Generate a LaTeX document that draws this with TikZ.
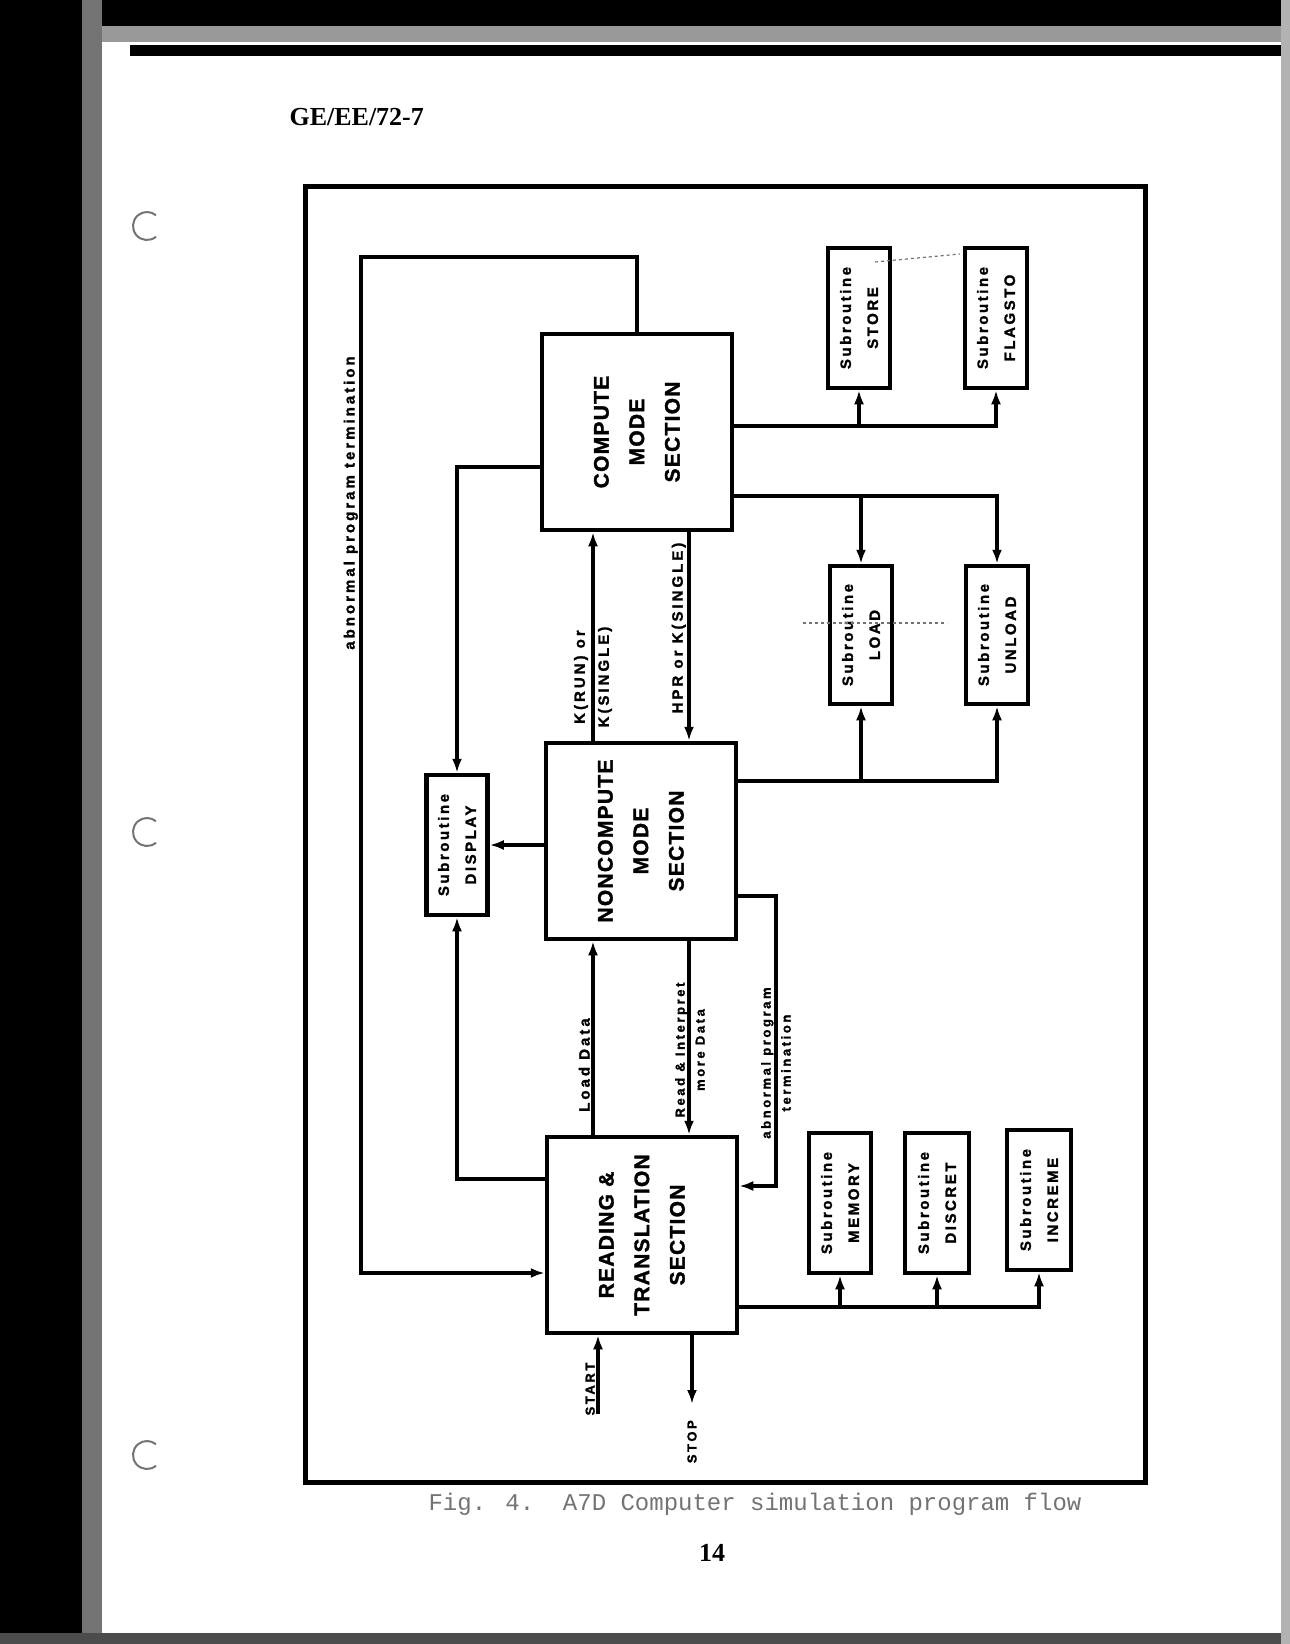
\documentclass[tikz,border=0pt]{standalone}
\usepackage{graphicx}
\usepackage{fontspec}
\setmainfont{Liberation Serif}
\newfontfamily\boxfont{Liberation Sans}[LetterSpace=6, BoldFeatures={FakeBold=1.5}]
\newfontfamily\subfont{Liberation Sans}[LetterSpace=17, BoldFeatures={FakeBold=1.5}]
\newfontfamily\lblfont{Liberation Sans}[LetterSpace=20, BoldFeatures={FakeBold=1.5}]
\newfontfamily\typefont{Liberation Mono}
\usetikzlibrary{calc, positioning, arrows.meta}

\newcommand{\vtext}[1]{\rotatebox{90}{\begin{tabular}{@{}c@{}}#1\end{tabular}}}

\tikzset{
	section/.style={draw, line width=4.5pt, minimum width=190pt, minimum height=196pt, inner sep=0pt,
		font=\boxfont\bfseries\fontsize{21}{35.5}\selectfont},
	subbox/.style={draw, line width=4.5pt, minimum width=62pt, minimum height=140pt, inner sep=0pt,
		font=\subfont\bfseries\fontsize{15}{27}\selectfont},
	wire/.style={line width=3.8pt, line cap=rect},
	flow/.style={wire, -{Latex[length=14pt,width=10pt]}},
	flowlabel/.style={rotate=90, inner sep=2pt, align=center,
		font=\lblfont\bfseries\fontsize{15}{24}\selectfont},
	smalllabel/.style={flowlabel, font=\lblfont\bfseries\fontsize{13}{20}\selectfont},
	scan/.style={black!55, line width=1.2pt, dashed}
}

\begin{document}
\begin{tikzpicture}[x=1pt, y=-1pt]
	\useasboundingbox (0,0) rectangle (1290,1644);
	\fill[white] (0,0) rectangle (1290,1644);

	% edges of the scanned sheet
	\begin{scope}
		\fill[black] (0,0) rectangle (1290,26);
		\fill[black!40] (0,26) rectangle (1290,42);
		\fill[black] (130,45) rectangle (1290,56);
		\fill[black] (0,0) rectangle (82,1644);
		\fill[black!55] (82,0) rectangle (102,1644);
		\fill[black!70] (0,1633) rectangle (1290,1644);
		\fill[black!30] (1281,0) rectangle (1290,1644);
		\foreach \hy in {226, 832, 1455}
		{
			\draw[black!55, line width=2pt] (147,\hy) ++(50:14) arc[start angle=50, end angle=310, radius=14];
		}
	\end{scope}

	\node[font=\bfseries\fontsize{26}{30}\selectfont, anchor=west] (docid) at (286,117) {GE/EE/72-7};

	\draw[line width=5pt] (305,186) rectangle (1145,1482);

	% main sections
	\node[section] (compute) at (637,432) {\vtext{COMPUTE\\MODE\\SECTION}};
	\node[section] (noncompute) at (641,841) {\vtext{NONCOMPUTE\\MODE\\SECTION}};
	\node[section] (reading) at (642,1235) {\vtext{READING \&\\TRANSLATION\\SECTION}};

	% subroutines
	\node[subbox, minimum width=61pt] (display) at (457,845) {\vtext{Subroutine\\DISPLAY}};
	\node[subbox] (store) at (859,318) {\vtext{Subroutine\\STORE}};
	\node[subbox] (flagsto) at (996,318) {\vtext{Subroutine\\FLAGSTO}};
	\node[subbox, minimum height=138pt] (load) at (861,635) {\vtext{Subroutine\\LOAD}};
	\node[subbox, minimum height=138pt] (unload) at (997,635) {\vtext{Subroutine\\UNLOAD}};
	\node[subbox] (memory) at (840,1203) {\vtext{Subroutine\\MEMORY}};
	\node[subbox, minimum width=64pt] (discret) at (937,1203) {\vtext{Subroutine\\DISCRET}};
	\node[subbox, minimum width=64pt] (increme) at (1039,1200) {\vtext{Subroutine\\INCREME}};

	\coordinate (lft) at (593,0);
	\coordinate (rgt) at (689,0);
	\coordinate (abtop) at (361,257);
	\coordinate (abbot) at (361,1273);
	\coordinate (dsptop) at (0,467);
	\coordinate (dspbot) at (0,1179);
	\coordinate (abturn) at (776,896);
	\coordinate (abend) at (776,1186);
	\coordinate (stobus) at (0,426);
	\coordinate (ldbus) at (0,496);
	\coordinate (nldbus) at (0,781);
	\coordinate (rdbus) at (0,1307);
	\coordinate (startpt) at (598,1412);

	% flow between the sections
	\begin{scope}
		\draw[flow] (compute.north) |- (abtop) -- (abbot) -- (abbot -| reading.west);
		\draw[flow] (dsptop -| compute.west) -| (display.north);
		\draw[flow] (dspbot -| reading.west) -| (display.south);
		\draw[flow] (noncompute.west |- display.east) -- (display.east);
		\draw[flow] (lft |- noncompute.north) -- (lft |- compute.south);
		\draw[flow] (rgt |- compute.south) -- (rgt |- noncompute.north);
		\draw[flow] (lft |- reading.north) -- (lft |- noncompute.south);
		\draw[flow] (rgt |- noncompute.south) -- (rgt |- reading.north);
		\draw[flow] (noncompute.east |- abturn) -- (abturn) -- (abend) -- (abend -| reading.east);
		\draw[flow] (startpt) -- (startpt |- reading.south);
	\end{scope}

	% calls to the subroutines
	\begin{scope}
		\draw[flow] (compute.east |- stobus) -| (flagsto.south);
		\draw[flow] (stobus -| store.south) -- (store.south);
		\draw[flow] (compute.east |- ldbus) -| (unload.north);
		\draw[flow] (ldbus -| load.north) -- (load.north);
		\draw[flow] (noncompute.east |- nldbus) -| (unload.south);
		\draw[flow] (nldbus -| load.south) -- (load.south);
		\draw[flow] (reading.east |- rdbus) -| (increme.south);
		\draw[flow] (rdbus -| memory.south) -- (memory.south);
		\draw[flow] (rdbus -| discret.south) -- (discret.south);
	\end{scope}

	\draw[scan] (875,262) -- (960,254);
	\draw[scan] (803,623) -- (947,623);

	% labels on the flow lines
	\node[flowlabel, anchor=south] (abnlbl) at (360,503) {abnormal program termination};
	\node[flowlabel] (runlbl) at (593,677) {K(RUN) or\\K(SINGLE)};
	\node[flowlabel, anchor=south] (hprlbl) at (688,628) {HPR or K(SINGLE)};
	\node[flowlabel, anchor=south] (loadlbl) at (592,1065) {Load Data};
	\node[smalllabel] (readlbl) at (690,1050) {Read \& Interpret\\more Data};
	\node[smalllabel] (abn2lbl) at (776,1063) {abnormal program\\termination};
	\node[smalllabel, anchor=south] (startlbl) at (597,1389) {START};
	\node[smalllabel, anchor=east] (stoplbl) at (692,1418) {STOP};
	\draw[flow, shorten >=14pt] (stoplbl |- reading.south) -- (stoplbl.east);

	\node[font=\typefont\fontsize{24}{28}\selectfont, text=black!55] (caption) at (755,1504) {Fig. 4.~~A7D Computer simulation program flow};
	\node[font=\bfseries\fontsize{26}{30}\selectfont] (pageno) at (712,1553) {14};
\end{tikzpicture}
\end{document}
